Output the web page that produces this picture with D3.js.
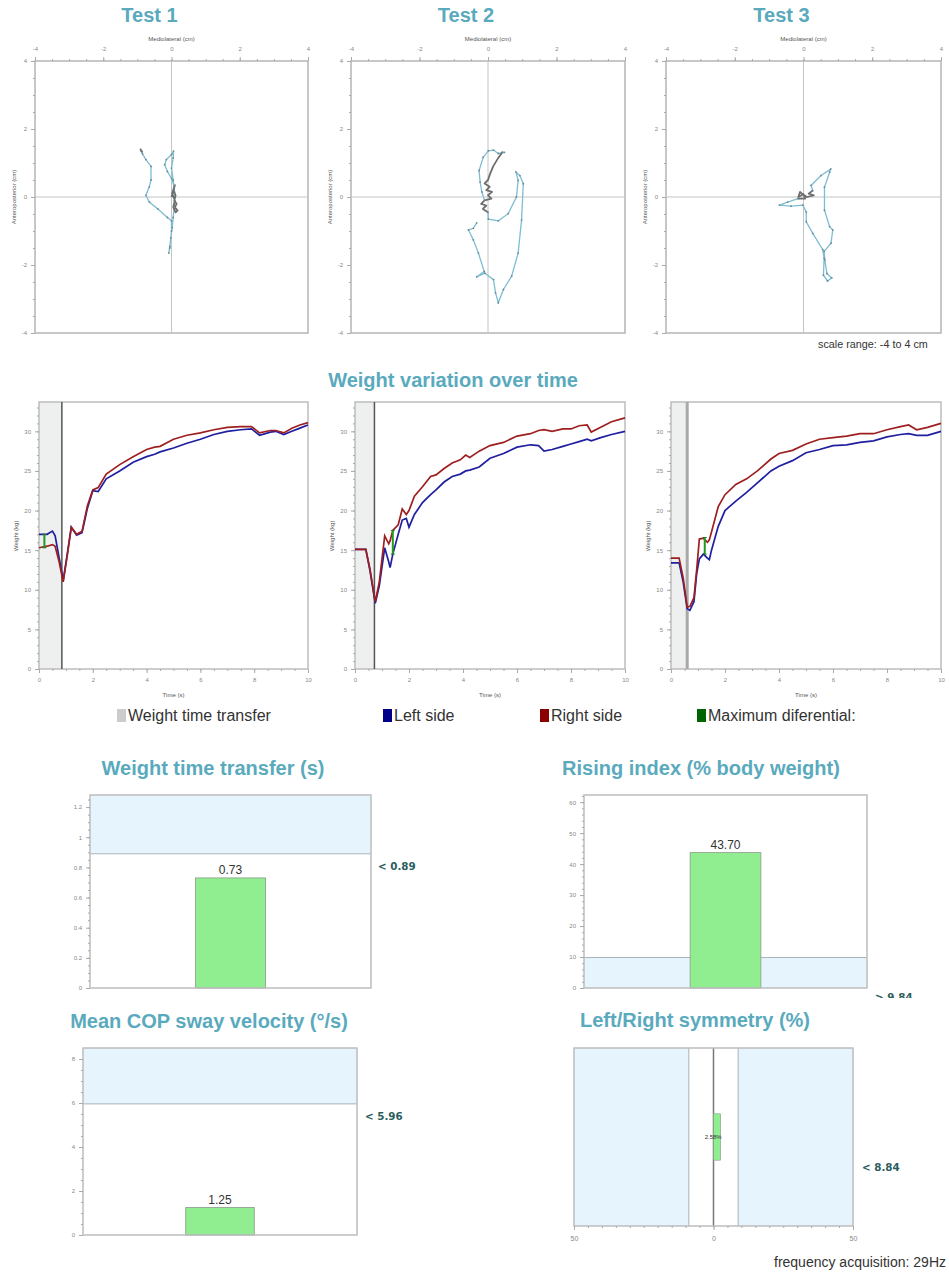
<!DOCTYPE html>
<html>
<head>
<meta charset="utf-8">
<script src="https://cdn.jsdelivr.net/npm/d3@7/dist/d3.min.js"></script>
<style>
body { margin: 0; background: #fff; }
svg text { font-family: "Liberation Sans", Arial, sans-serif; }
.title { font-weight: bold; fill: #5aaabe; font-size: 20px; }
.tick text { fill: #888; font-size: 6px; }
.tick line, .domain { stroke: #aaa; }
.small { font-size: 6px; fill: #555; }
.limit { font-family: "DejaVu Sans", sans-serif !important; font-weight: bold; font-size: 10.3px; fill: #2b5d5d; }
</style>
</head>
<body>
<svg id="chart" width="949" height="1273"></svg>
<script>
// ---- data ----
var testNames = ["Test 1", "Test 2", "Test 3"];

// centre of pressure traces (cm) : gray = start phase, blue = rest
var copGray1 = [[[-0.92, 1.42], [-0.86, 1.33], [-0.9, 1.36]],
    [[0.0, 0.0], [0.05, 0.15], [0.1, 0.35], [0.05, 0.2], [0.12, 0.05], [0.08, -0.1], [0.15, -0.2], [0.1, -0.3], [0.18, -0.4], [0.12, -0.45], [0.05, -0.3], [0.1, -0.1], [0.02, 0.1], [0.08, 0.3]]];
var copBlue1 = [[[0.08, 0.30], [0.0, 0.55], [-0.12, 0.75], [-0.2, 0.95], [-0.15, 1.1], [0.0, 1.25], [0.06, 1.35], [0.05, 1.15], [0.0, 0.85], [0.05, 0.5], [0.1, 0.1], [0.08, -0.3], [0.05, -0.6], [0.02, -0.9], [-0.02, -1.2], [-0.05, -1.45], [-0.08, -1.65], [-0.05, -1.5], [0.0, -1.0], [0.0, -0.7], [-0.12, -0.6], [-0.4, -0.35], [-0.65, -0.15], [-0.75, 0.05], [-0.65, 0.3], [-0.6, 0.5], [-0.6, 0.9], [-0.75, 1.1], [-0.85, 1.27], [-0.9, 1.37]]];

var copGray2 = [[[0.42, 1.32], [0.3, 1.15], [0.15, 0.9], [0.05, 0.65], [0.0, 0.5], [-0.1, 0.4], [0.05, 0.3], [-0.05, 0.2], [0.12, 0.15], [0.0, 0.05], [0.1, -0.05], [-0.1, -0.1], [-0.2, -0.2], [-0.05, -0.25], [-0.15, -0.35], [0.0, -0.45]]];
var copBlue2 = [[[0.42, 1.32], [0.48, 1.31], [0.3, 1.28], [0.16, 1.38], [0.01, 1.36], [-0.14, 1.17], [-0.26, 0.78], [-0.23, 0.44], [-0.18, 0.15], [-0.1, -0.1]],
    [[0.0, -0.45], [0.01, -0.65], [0.30, -0.70], [0.59, -0.49], [0.83, 0.0], [0.88, 0.49], [0.82, 0.73], [0.93, 0.63], [1.03, 0.39], [0.98, -0.68], [0.88, -1.65], [0.69, -2.33], [0.45, -2.72], [0.30, -3.11], [0.22, -2.82], [0.16, -2.43], [-0.09, -2.24], [-0.33, -2.35], [-0.11, -2.19], [-0.28, -1.65], [-0.43, -1.26], [-0.57, -0.97], [-0.43, -0.92], [-0.33, -0.76]]];

var copGray3 = [[[0.27, 0.19], [0.15, 0.1], [0.3, 0.05], [0.1, 0.0], [-0.05, 0.1], [-0.1, 0.15], [-0.15, 0.0], [0.0, 0.08], [0.05, -0.05], [-0.16, -0.05]]];
var copBlue3 = [[[-0.16, -0.05], [-0.46, -0.15], [-0.70, -0.24], [-0.36, -0.27], [-0.02, -0.24], [0.08, -0.44], [0.08, -0.73], [0.27, -1.07], [0.56, -1.55], [0.60, -1.80], [0.58, -2.30], [0.70, -2.47], [0.82, -2.38], [0.68, -2.25], [0.62, -1.85], [0.60, -1.60], [0.80, -1.36], [0.85, -0.97], [0.76, -0.87], [0.61, -0.39], [0.61, 0.29], [0.76, 0.73], [0.79, 0.82], [0.51, 0.63], [0.22, 0.34], [0.27, 0.19]]];

// weight over time (s, kg)
var weightTime1 = [0, 0.3, 0.5, 0.6, 0.75, 0.9, 1.05, 1.2, 1.4, 1.6, 1.8, 2.0, 2.2, 2.5, 3.0, 3.5, 4.0, 4.3, 4.5, 5.0, 5.5, 6.0, 6.5, 7.0, 7.5, 7.9, 8.2, 8.6, 8.8, 9.1, 9.4, 9.7, 10];
var leftSide1 = [17.0, 17.0, 17.4, 16.8, 14.0, 11.2, 14.5, 17.9, 16.9, 17.2, 20.3, 22.5, 22.4, 24.0, 25.0, 26.1, 26.8, 27.1, 27.4, 27.9, 28.5, 29.0, 29.6, 30.0, 30.2, 30.3, 29.5, 29.9, 30.0, 29.6, 30.0, 30.4, 30.8];
var rightSide1 = [15.3, 15.5, 15.7, 15.5, 13.5, 11.0, 14.3, 17.9, 17.0, 17.4, 20.6, 22.6, 22.9, 24.6, 25.8, 26.8, 27.7, 28.0, 28.1, 29.0, 29.5, 29.8, 30.2, 30.5, 30.6, 30.6, 29.8, 30.1, 30.1, 29.8, 30.4, 30.8, 31.1];

var weightTime2 = [0, 0.4, 0.55, 0.75, 0.9, 1.1, 1.25, 1.3, 1.4, 1.6, 1.75, 1.9, 2.0, 2.2, 2.5, 2.8, 3.0, 3.3, 3.6, 3.9, 4.1, 4.25, 4.6, 5.0, 5.5, 6.0, 6.5, 6.8, 7.0, 7.3, 7.7, 8.0, 8.3, 8.6, 8.75, 9.1, 9.5, 10];
var leftSide2 = [15.1, 15.1, 12.5, 8.3, 10.5, 15.3, 13.5, 12.8, 14.5, 17.0, 18.8, 19.0, 17.9, 19.5, 21.0, 22.0, 22.6, 23.6, 24.3, 24.6, 25.0, 25.1, 25.5, 26.6, 27.2, 28.0, 28.3, 28.2, 27.5, 27.7, 28.1, 28.4, 28.7, 29.0, 28.8, 29.2, 29.6, 30.0];
var rightSide2 = [15.1, 15.1, 12.7, 8.5, 11.0, 16.8, 15.8, 16.2, 17.5, 18.2, 20.2, 19.5, 20.0, 21.8, 23.0, 24.3, 24.5, 25.3, 26.0, 26.4, 27.0, 26.7, 27.5, 28.2, 28.6, 29.4, 29.7, 30.1, 30.2, 30.0, 30.3, 30.3, 30.7, 30.8, 29.9, 30.5, 31.2, 31.7];

var weightTime3 = [0, 0.3, 0.45, 0.6, 0.7, 0.85, 0.95, 1.05, 1.2, 1.35, 1.42, 1.5, 1.75, 2.0, 2.4, 2.8, 3.2, 3.7, 4.0, 4.5, 5.0, 5.5, 6.0, 6.5, 7.0, 7.5, 8.0, 8.5, 8.8, 9.1, 9.5, 10];
var leftSide3 = [13.4, 13.4, 11.0, 7.6, 7.4, 8.5, 12.0, 13.9, 14.5, 14.0, 13.8, 15.0, 18.0, 20.0, 21.2, 22.3, 23.5, 25.0, 25.6, 26.3, 27.3, 27.7, 28.2, 28.3, 28.6, 28.8, 29.3, 29.6, 29.7, 29.5, 29.5, 30.0];
var rightSide3 = [14.0, 14.0, 11.5, 7.8, 7.9, 9.0, 12.5, 16.4, 16.5, 16.0, 16.3, 17.3, 20.5, 22.0, 23.3, 24.0, 25.0, 26.5, 27.2, 27.6, 28.4, 29.0, 29.2, 29.4, 29.7, 29.7, 30.2, 30.6, 30.8, 30.2, 30.5, 31.0];

var transferTimes = [0.85, 0.72, 0.6];
// [time, low, high] of the maximum differential
var maxDiffs = [[0.2, 15.3, 17.0], [1.4, 14.5, 17.5], [1.25, 14.5, 16.6]];

var legendLabels = ["Weight time transfer", "Left side", "Right side", "Maximum diferential:"];
var legendColors = ["#cccccc", "#00008b", "#8b0000", "#006400"];

var metricTitles = ["Weight time transfer (s)", "Rising index (% body weight)", "Mean COP sway velocity (°/s)", "Left/Right symmetry (%)"];
var metricValues = [0.73, 43.70, 1.25, 2.58];
var metricValueLabels = ["0.73", "43.70", "1.25", "2.58%"];
var limitValues = [0.89, 9.84, 5.96, 8.84];
var limitLabels = ["< 0.89", "> 9.84", "< 5.96", "< 8.84"];

// ---- layout ----
var svg = d3.select("#chart");
var copFrames = [{ x0: 35, x1: 308 }, { x0: 351, x1: 625 }, { x0: 666, x1: 941 }];
var weightFrames = [{ x0: 39, x1: 308 }, { x0: 355, x1: 625 }, { x0: 671, x1: 941 }];
var copGray = [copGray1, copGray2, copGray3];
var copBlue = [copBlue1, copBlue2, copBlue3];
var weightTimes = [weightTime1, weightTime2, weightTime3];
var leftSides = [leftSide1, leftSide2, leftSide3];
var rightSides = [rightSide1, rightSide2, rightSide3];

function fmt(d) { return String(+d.toFixed(2)); }

// ---- COP plots ----
copFrames.forEach(function (f, i) {
    var x = d3.scaleLinear().domain([-4, 4]).range([f.x0, f.x1]);
    var y = d3.scaleLinear().domain([-4, 4]).range([333, 61]);
    var g = svg.append("g");

    g.append("text").attr("class", "title")
        .attr("x", (f.x0 + f.x1) / 2 - 22).attr("y", 22)
        .attr("text-anchor", "middle").text(testNames[i]);

    g.append("rect")
        .attr("x", x(-4)).attr("y", y(4))
        .attr("width", x(4) - x(-4)).attr("height", y(-4) - y(4))
        .attr("fill", "none").attr("stroke", "#b5b5b5").attr("stroke-width", 1.5);

    g.append("line").attr("x1", x(0)).attr("x2", x(0)).attr("y1", y(4)).attr("y2", y(-4))
        .attr("stroke", "#c4c4c4");
    g.append("line").attr("x1", x(-4)).attr("x2", x(4)).attr("y1", y(0)).attr("y2", y(0))
        .attr("stroke", "#c4c4c4");

    g.append("g").attr("transform", `translate(0,${y(4)})`)
        .call(d3.axisTop(x).tickValues(d3.range(-4, 4.01, 0.5)).tickSize(2).tickFormat(""));
    g.append("g").attr("transform", `translate(0,${y(4)})`)
        .call(d3.axisTop(x).tickValues([-4, -2, 0, 2, 4]).tickSize(4).tickPadding(6).tickFormat(fmt));
    g.append("g").attr("transform", `translate(${x(-4)},0)`)
        .call(d3.axisLeft(y).tickValues(d3.range(-4, 4.01, 0.5)).tickSize(2).tickFormat(""));
    g.append("g").attr("transform", `translate(${x(-4)},0)`)
        .call(d3.axisLeft(y).tickValues([-4, -2, 0, 2, 4]).tickSize(4).tickPadding(4).tickFormat(fmt));
    g.selectAll(".domain").remove();

    g.append("text").attr("class", "small")
        .attr("x", (f.x0 + f.x1) / 2).attr("y", 41).attr("text-anchor", "middle")
        .text("Mediolateral (cm)");
    g.append("text").attr("class", "small")
        .attr("transform", `translate(${f.x0 - 19},${y(0)}) rotate(-90)`)
        .attr("text-anchor", "middle").text("Anteroposterior (cm)");

    var line = d3.line().x(d => x(d[0])).y(d => y(d[1]));

    g.selectAll(".blue").data(copBlue[i]).enter().append("path")
        .attr("d", line).attr("fill", "none")
        .attr("stroke", "#7dbdd2").attr("stroke-width", 1.3);
    g.selectAll(".gray").data(copGray[i]).enter().append("path")
        .attr("d", line).attr("fill", "none")
        .attr("stroke", "#6e6e6e").attr("stroke-width", 1.8)
        .attr("stroke-linejoin", "round");

    // small sample marks along the trace
    var pts = [].concat.apply([], copBlue[i]);
    g.selectAll(".pt").data(pts).enter().append("circle")
        .attr("cx", d => x(d[0])).attr("cy", d => y(d[1])).attr("r", 0.9)
        .attr("fill", "#6a8a94");
});

svg.append("text")
    .attr("x", 818).attr("y", 348)
    .style("font-size", "10.8px").attr("fill", "#333")
    .text("scale range: -4 to 4 cm");

// ---- weight variation ----
svg.append("text").attr("class", "title")
    .attr("x", 453).attr("y", 387).attr("text-anchor", "middle")
    .text("Weight variation over time");

weightFrames.forEach(function (f, i) {
    var x = d3.scaleLinear().domain([0, 10]).range([f.x0, f.x1]);
    var y = d3.scaleLinear().domain([0, 33.7]).range([669, 402]);
    var g = svg.append("g");

    g.append("rect")
        .attr("x", x(0)).attr("y", y(33.7))
        .attr("width", x(transferTimes[i]) - x(0)).attr("height", y(0) - y(33.7))
        .attr("fill", "#eef0f0");

    g.append("rect")
        .attr("x", x(0)).attr("y", y(33.7))
        .attr("width", x(10) - x(0)).attr("height", y(0) - y(33.7))
        .attr("fill", "none").attr("stroke", "#bdbdbd").attr("stroke-width", 1.5);

    g.append("line")
        .attr("x1", x(transferTimes[i])).attr("x2", x(transferTimes[i]))
        .attr("y1", y(33.7)).attr("y2", y(0))
        .attr("stroke", i == 2 ? "#a8a8a8" : "#555")
        .attr("stroke-width", i == 2 ? 3 : 1.5);

    g.append("g").attr("transform", `translate(0,${y(0)})`)
        .call(d3.axisBottom(x).tickValues(d3.range(0, 10.01, 0.5)).tickSize(2).tickFormat(""));
    g.append("g").attr("transform", `translate(0,${y(0)})`)
        .call(d3.axisBottom(x).tickValues(d3.range(0, 10.01, 2)).tickSize(4).tickPadding(5).tickFormat(fmt));
    g.append("g").attr("transform", `translate(${x(0)},0)`)
        .call(d3.axisLeft(y).tickValues(d3.range(0, 33.5, 1)).tickSize(2).tickFormat(""));
    g.append("g").attr("transform", `translate(${x(0)},0)`)
        .call(d3.axisLeft(y).tickValues(d3.range(0, 30.1, 5)).tickSize(4).tickPadding(4).tickFormat(fmt));
    g.selectAll(".domain").remove();

    g.append("text").attr("class", "small")
        .attr("x", (f.x0 + f.x1) / 2).attr("y", 697).attr("text-anchor", "middle")
        .text("Time (s)");
    g.append("text").attr("class", "small")
        .attr("transform", `translate(${f.x0 - 21},${y(16.8)}) rotate(-90)`)
        .attr("text-anchor", "middle").text("Weight (kg)");

    var t = weightTimes[i];
    var line = d3.line().x((d, k) => x(t[k])).y(d => y(d));

    g.append("path").datum(leftSides[i]).attr("d", line)
        .attr("fill", "none").attr("stroke", "#1f1fa0").attr("stroke-width", 1.7);
    g.append("path").datum(rightSides[i]).attr("d", line)
        .attr("fill", "none").attr("stroke", "#9e1f1f").attr("stroke-width", 1.7);

    var md = maxDiffs[i];
    g.append("line").attr("x1", x(md[0])).attr("x2", x(md[0]))
        .attr("y1", y(md[1])).attr("y2", y(md[2]))
        .attr("stroke", "#1f9a1f").attr("stroke-width", 2);
    [md[1], md[2]].forEach(function (v) {
        g.append("line").attr("x1", x(md[0]) - 2).attr("x2", x(md[0]) + 2)
            .attr("y1", y(v)).attr("y2", y(v))
            .attr("stroke", "#1f7a1f").attr("stroke-width", 1);
    });
});

// legend
var legendX = [117, 383, 540, 697];
var legend = svg.selectAll(".legend").data(legendLabels).enter().append("g")
    .attr("class", "legend")
    .attr("transform", (d, i) => `translate(${legendX[i]},709)`);
legend.append("rect").attr("width", 9).attr("height", 13).attr("y", 0)
    .attr("fill", (d, i) => legendColors[i]);
legend.append("text").attr("x", 11).attr("y", 12)
    .style("font-size", "16px").attr("fill", "#333").text(d => d);

// ---- metric bar charts ----
var barFrames = [
    { x0: 90, x1: 371, y0: 795, y1: 988, top: 1.28, major: 0.2, minor: 0.05, lx: 378, ly: 870, tx: 213 },
    { x0: 584, x1: 867, y0: 795, y1: 988, top: 62.3, major: 10, minor: 2, lx: 875, ly: 1001, tx: 701 },
    { x0: 83, x1: 357, y0: 1048, y1: 1235, top: 8.5, major: 2, minor: 0.5, lx: 365, ly: 1120, tx: 209 }
];

svg.append("clipPath").attr("id", "clipTop")
    .append("rect").attr("x", 0).attr("y", 0).attr("width", 949).attr("height", 998);

barFrames.forEach(function (f, i) {
    var y = d3.scaleLinear().domain([0, f.top]).range([f.y1, f.y0]);
    var x = d3.scaleBand().domain([metricTitles[i]]).range([f.x0, f.x1])
        .paddingInner(0).paddingOuter(1.5);
    var g = svg.append("g");

    g.append("text").attr("class", "title")
        .attr("x", f.tx).attr("y", f.y0 - 20)
        .attr("text-anchor", "middle").text(metricTitles[i]);

    var below = limitLabels[i][0] == ">";
    var bandTop = below ? y(limitValues[i]) : y(f.top);
    var bandBottom = below ? y(0) : y(limitValues[i]);
    g.append("rect")
        .attr("x", f.x0).attr("width", f.x1 - f.x0)
        .attr("y", bandTop).attr("height", bandBottom - bandTop)
        .attr("fill", "#e6f5fd");
    g.append("line")
        .attr("x1", f.x0).attr("x2", f.x1)
        .attr("y1", y(limitValues[i])).attr("y2", y(limitValues[i]))
        .attr("stroke", "#a9b4b8");

    g.append("rect")
        .attr("x", x(metricTitles[i])).attr("width", x.bandwidth())
        .attr("y", y(metricValues[i])).attr("height", y(0) - y(metricValues[i]))
        .attr("fill", "#90ee90").attr("stroke", "#8a9a8a").attr("stroke-width", 0.8);

    g.append("text")
        .attr("x", x(metricTitles[i]) + x.bandwidth() / 2).attr("y", y(metricValues[i]) - 4)
        .attr("text-anchor", "middle").style("font-size", "12px").attr("fill", "#333")
        .text(metricValueLabels[i]);

    g.append("rect")
        .attr("x", f.x0).attr("y", f.y0)
        .attr("width", f.x1 - f.x0).attr("height", f.y1 - f.y0)
        .attr("fill", "none").attr("stroke", "#bdbdbd").attr("stroke-width", 1.5);

    g.append("g").attr("transform", `translate(${f.x0},0)`)
        .call(d3.axisLeft(y).tickValues(d3.range(0, f.top, f.minor)).tickSize(2).tickFormat(""));
    g.append("g").attr("transform", `translate(${f.x0},0)`)
        .call(d3.axisLeft(y).tickValues(d3.range(0, f.top, f.major)).tickSize(4).tickPadding(4).tickFormat(fmt));
    g.selectAll(".domain").remove();

    var lim = g.append("text").attr("class", "limit")
        .attr("x", f.lx).attr("y", f.ly).text(limitLabels[i]);
    if (below) lim.attr("clip-path", "url(#clipTop)");
});

// symmetry chart
(function () {
    var f = { x0: 574, x1: 853, y0: 1048, y1: 1226 };
    var x = d3.scaleLinear().domain([-50, 50]).range([f.x0, f.x1]);
    var y = d3.scaleBand().domain(["sym"]).range([f.y0, f.y1]).paddingInner(0).paddingOuter(1.42);
    var g = svg.append("g");
    var lim = limitValues[3];

    g.append("text").attr("class", "title")
        .attr("x", 695).attr("y", f.y0 - 21)
        .attr("text-anchor", "middle").text(metricTitles[3]);

    g.selectAll(".band").data([[-50, -lim], [lim, 50]]).enter().append("rect")
        .attr("x", d => x(d[0])).attr("width", d => x(d[1]) - x(d[0]))
        .attr("y", f.y0).attr("height", f.y1 - f.y0)
        .attr("fill", "#e6f5fd");
    g.selectAll(".limline").data([-lim, lim]).enter().append("line")
        .attr("x1", d => x(d)).attr("x2", d => x(d))
        .attr("y1", f.y0).attr("y2", f.y1)
        .attr("stroke", "#a9b4b8");
    g.append("line")
        .attr("x1", x(0)).attr("x2", x(0)).attr("y1", f.y0).attr("y2", f.y1)
        .attr("stroke", "#777").attr("stroke-width", 1.5);

    g.append("rect")
        .attr("x", x(0)).attr("width", x(metricValues[3]) - x(0))
        .attr("y", y("sym")).attr("height", y.bandwidth())
        .attr("fill", "#90ee90").attr("stroke", "#8a9a8a").attr("stroke-width", 0.6);
    g.append("text")
        .attr("x", x(metricValues[3]) + 1).attr("y", y("sym") + y.bandwidth() / 2 + 2)
        .attr("text-anchor", "end").style("font-size", "6px").attr("fill", "#333")
        .text(metricValueLabels[3]);

    g.append("rect")
        .attr("x", f.x0).attr("y", f.y0)
        .attr("width", f.x1 - f.x0).attr("height", f.y1 - f.y0)
        .attr("fill", "none").attr("stroke", "#bdbdbd").attr("stroke-width", 1.5);

    g.append("g").attr("transform", `translate(0,${f.y1})`)
        .call(d3.axisBottom(x).tickValues(d3.range(-50, 50.1, 5)).tickSize(2).tickFormat(""));
    var ax = g.append("g").attr("transform", `translate(0,${f.y1})`)
        .call(d3.axisBottom(x).tickValues([-50, 0, 50]).tickSize(4).tickPadding(6).tickFormat(d => Math.abs(d)));
    ax.selectAll("text").style("font-size", "7px");
    g.selectAll(".domain").remove();

    g.append("text").attr("class", "limit")
        .attr("x", 862).attr("y", 1171).text(limitLabels[3]);
})();

svg.append("text")
    .attr("x", 946).attr("y", 1267).attr("text-anchor", "end")
    .style("font-size", "14px").attr("fill", "#333")
    .text("frequency acquisition: 29Hz");
</script>
</body>
</html>
